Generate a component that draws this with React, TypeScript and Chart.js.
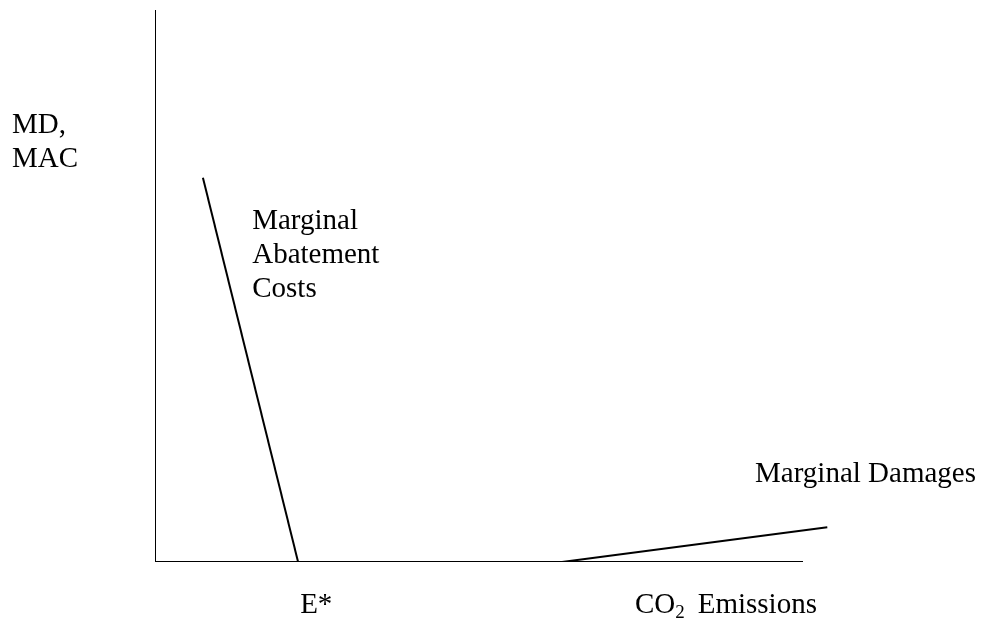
import React, { useEffect, useRef } from "react";
import { Chart, registerables } from "chart.js";

Chart.register(...registerables);

// Data (arbitrary economic units)
const yAxisX = [0, 0];
const yAxisY = [0, 100];
const xAxisX = [0, 96];
const xAxisY = [0, 0];
const macX = [7.1, 21.2];
const macY = [69.6, 0];
const mdX = [60.3, 99.6];
const mdY = [0, 6.3];

const yAxisLabel = ["MD,", "MAC"];
const macLabel = ["Marginal", "Abatement", "Costs"];
const mdLabel = "Marginal Damages";
const eStarLabel = "E*";
const co2Label = ["CO", "2", "Emissions"];

const FONT = '"Liberation Serif", "Times New Roman", serif';

const toPts = (xs: number[], ys: number[]) => xs.map((x, i) => ({ x, y: ys[i] }));

const labelPlugin = {
  id: "labels",
  afterDatasetsDraw(chart: any) {
    const ctx = chart.ctx;
    const xs = chart.scales.x;
    const ys = chart.scales.y;
    const px = (v: number) => xs.getPixelForValue(v);
    const py = (v: number) => ys.getPixelForValue(v);
    ctx.save();
    ctx.fillStyle = "#000";
    ctx.textBaseline = "alphabetic";
    ctx.textAlign = "left";
    ctx.font = `29px ${FONT}`;
    ctx.fillText(yAxisLabel[0], px(-21.2), py(77.7));
    ctx.fillText(yAxisLabel[1], px(-21.2), py(71.6));
    const macYs = [60.3, 54.2, 48.0];
    macLabel.forEach((t, i) => ctx.fillText(t, px(14.4), py(macYs[i])));
    ctx.fillText(mdLabel, px(88.9), py(14.5));
    ctx.fillText(eStarLabel, px(21.5), py(-9.2));
    const cx = px(71.1);
    const cy = py(-9.2);
    ctx.fillText(co2Label[0], cx, cy);
    const w = ctx.measureText(co2Label[0]).width;
    ctx.font = `19px ${FONT}`;
    ctx.fillText(co2Label[1], cx + w, cy + 5);
    ctx.font = `29px ${FONT}`;
    ctx.fillText(co2Label[2], px(80.4), cy);
    ctx.restore();
  },
};

export default function App() {
  const ref = useRef<HTMLCanvasElement>(null);
  useEffect(() => {
    if (!ref.current) return;
    const line = { borderColor: "#000", borderWidth: 2, pointRadius: 0, showLine: true, fill: false, tension: 0 };
    const chart = new Chart(ref.current, {
      type: "scatter",
      data: {
        datasets: [
          { label: "y-axis", data: toPts(yAxisX, yAxisY), ...line },
          { label: "x-axis", data: toPts(xAxisX, xAxisY), ...line },
          { label: "Marginal Abatement Costs", data: toPts(macX, macY), ...line },
          { label: "Marginal Damages", data: toPts(mdX, mdY), ...line },
        ],
      },
      options: {
        animation: false,
        responsive: false,
        maintainAspectRatio: false,
        layout: { padding: { left: 155, right: 152, top: 10, bottom: 58 } },
        scales: {
          x: { type: "linear", min: 0, max: 100, display: false },
          y: { type: "linear", min: 0, max: 100, display: false },
        },
        plugins: { legend: { display: false }, tooltip: { enabled: false } },
      },
      plugins: [labelPlugin],
    });
    return () => chart.destroy();
  }, []);
  return (
    <div style={{ position: "fixed", left: 0, top: 0, width: 982, height: 620, background: "#fff" }}>
      <canvas ref={ref} width={982} height={620} style={{ width: 982, height: 620 }} />
    </div>
  );
}
